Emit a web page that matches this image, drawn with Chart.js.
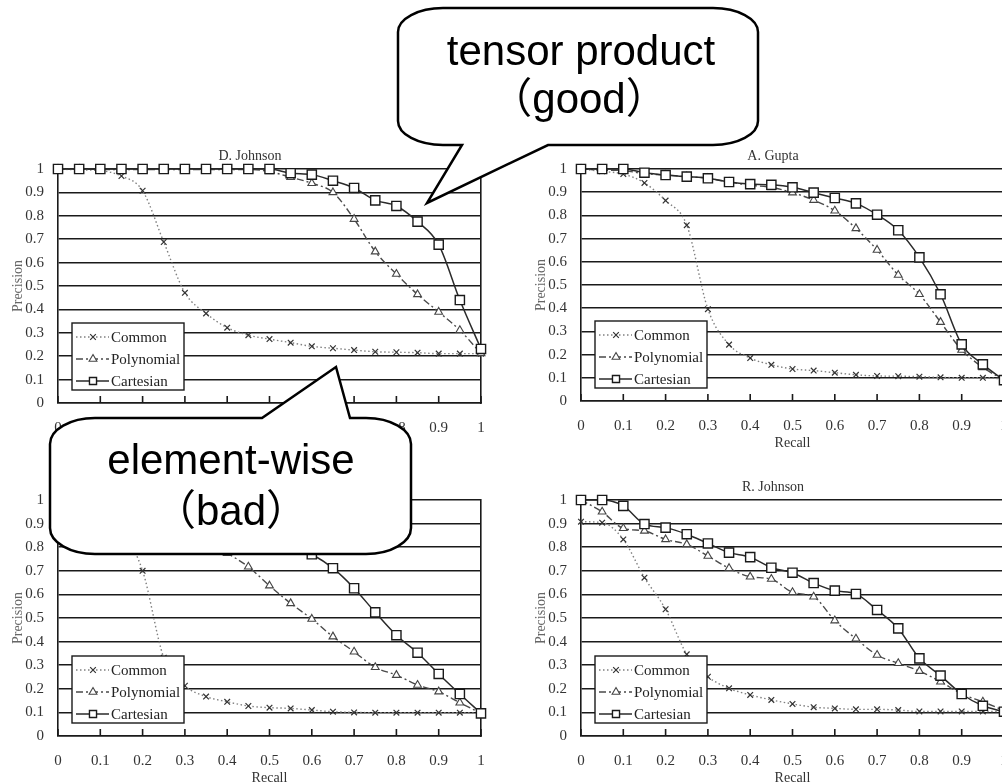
<!DOCTYPE html>
<html>
<head>
<meta charset="utf-8">
<script src="https://cdn.jsdelivr.net/npm/chart.js"></script>
<style>
html, body { margin: 0; padding: 0; width: 1002px; height: 784px; overflow: hidden; background: #fff; }
canvas { position: absolute; }
#bubbles { position: absolute; left: 0; top: 0; z-index: 5; }
</style>
</head>
<body>
<canvas id="chartDJ" width="500" height="316" style="left:0;top:144px"></canvas>
<canvas id="chartAG" width="500" height="314" style="left:523px;top:144px"></canvas>
<canvas id="chartBL" width="500" height="318" style="left:0;top:475px"></canvas>
<canvas id="chartRJ" width="500" height="318" style="left:523px;top:475px"></canvas>

<svg id="bubbles" width="1002" height="784">
  <path d="M443,8 H713 A45,24 0 0 1 758,32 V121 A45,24 0 0 1 713,145 H548 L427,203 L462,145 H443 A45,24 0 0 1 398,121 V32 A45,24 0 0 1 443,8 Z"
        fill="#fff" stroke="#000" stroke-width="2.5" stroke-linejoin="miter"/>
  <path d="M95,418 H262 L336,367 L350,418 H366 A45,26 0 0 1 411,444 V528 A45,26 0 0 1 366,554 H95 A45,26 0 0 1 50,528 V444 A45,26 0 0 1 95,418 Z"
        fill="#fff" stroke="#000" stroke-width="2.5" stroke-linejoin="miter"/>
  <g font-family="'Liberation Sans', Arial, 'Noto Sans CJK JP'" font-size="42" text-anchor="middle" fill="#000">
    <text x="581" y="65">tensor product</text>
    <text x="579" y="113">（good）</text>
    <text x="231" y="474">element-wise</text>
    <text x="231" y="525">（bad）</text>
  </g>
</svg>

<script>
// recall points (x axis)
const recall = [0, 0.05, 0.1, 0.15, 0.2, 0.25, 0.3, 0.35, 0.4, 0.45, 0.5,
                0.55, 0.6, 0.65, 0.7, 0.75, 0.8, 0.85, 0.9, 0.95, 1];

// D. Johnson
const djCommon = [1, 0.996, 0.993, 0.97, 0.907, 0.688, 0.471, 0.383, 0.322, 0.29, 0.273,
                  0.258, 0.242, 0.234, 0.226, 0.219, 0.217, 0.215, 0.211, 0.211, 0.211];
const djPoly   = [1, 1, 0.998, 0.998, 0.998, 0.998, 0.998, 0.998, 0.998, 0.998, 0.989,
                  0.965, 0.939, 0.9, 0.786, 0.647, 0.551, 0.464, 0.389, 0.311, 0.212];
const djCart   = [1, 1, 1, 1, 1, 1, 1, 1, 1, 1, 1,
                  0.982, 0.976, 0.95, 0.919, 0.866, 0.842, 0.775, 0.677, 0.44, 0.231];

// A. Gupta
const agCommon = [1, 0.99, 0.978, 0.94, 0.864, 0.758, 0.396, 0.243, 0.185, 0.156, 0.138,
                  0.131, 0.122, 0.113, 0.108, 0.107, 0.105, 0.102, 0.1, 0.1, 0.095];
const agPoly   = [1, 0.995, 0.993, 0.98, 0.974, 0.967, 0.96, 0.944, 0.93, 0.921, 0.898,
                  0.866, 0.82, 0.744, 0.651, 0.543, 0.46, 0.34, 0.22, 0.145, 0.09];
const agCart   = [1, 1, 1, 0.984, 0.974, 0.967, 0.96, 0.944, 0.935, 0.932, 0.921,
                  0.898, 0.875, 0.852, 0.803, 0.736, 0.619, 0.46, 0.244, 0.158, 0.09];

// lower left panel (title hidden under the callout)
const blCommon = [1, 0.99, 0.96, 0.87, 0.7, 0.332, 0.213, 0.167, 0.145, 0.127, 0.12,
                  0.117, 0.11, 0.103, 0.1, 0.099, 0.099, 0.099, 0.099, 0.099, 0.096];
const blPoly   = [1, 1, 0.99, 0.98, 0.96, 0.93, 0.89, 0.83, 0.775, 0.717, 0.637,
                  0.562, 0.496, 0.421, 0.357, 0.291, 0.258, 0.216, 0.188, 0.141, 0.096];
const blCart   = [1, 1, 1, 0.99, 0.98, 0.97, 0.96, 0.94, 0.92, 0.89, 0.85,
                  0.81, 0.77, 0.711, 0.626, 0.524, 0.427, 0.353, 0.263, 0.178, 0.096];

// R. Johnson
const rjCommon = [0.908, 0.904, 0.833, 0.671, 0.537, 0.346, 0.251, 0.202, 0.174, 0.153, 0.136,
                  0.122, 0.117, 0.113, 0.113, 0.11, 0.104, 0.104, 0.104, 0.104, 0.103];
const rjPoly   = [1, 0.95, 0.88, 0.869, 0.833, 0.812, 0.763, 0.711, 0.675, 0.665, 0.609,
                  0.59, 0.489, 0.412, 0.343, 0.308, 0.275, 0.23, 0.178, 0.145, 0.108];
const rjCart   = [1, 1, 0.975, 0.898, 0.883, 0.855, 0.816, 0.777, 0.758, 0.713, 0.692,
                  0.648, 0.616, 0.602, 0.534, 0.456, 0.329, 0.256, 0.178, 0.128, 0.103];

const seriesNames = ['Common', 'Polynomial', 'Cartesian'];
const SERIF = "'Liberation Serif', 'DejaVu Serif', serif";
const GRID = '#1a1a1a';

function pts(vals) {
    return recall.map((r, i) => ({ x: r, y: vals[i] }));
}

function makeSets(common, poly, cart) {
    return [
        { label: seriesNames[0], data: pts(common), borderColor: '#808080', borderWidth: 1.4,
          borderDash: [1.5, 2.5], pointStyle: 'crossRot', pointRadius: 4, pointBorderColor: '#333',
          pointBackgroundColor: '#fff', pointBorderWidth: 1.2, order: 2 },
        { label: seriesNames[1], data: pts(poly), borderColor: '#4a4a4a', borderWidth: 1.4,
          borderDash: [7, 3, 2, 3], pointStyle: 'triangle', pointRadius: 4.5, pointBorderColor: '#444',
          pointBackgroundColor: '#fff', pointBorderWidth: 1.1, order: 1 },
        { label: seriesNames[2], data: pts(cart), borderColor: '#2a2a2a', borderWidth: 1.5,
          borderDash: [], pointStyle: 'rect', pointRadius: 6.5, pointBorderColor: '#1a1a1a',
          pointBackgroundColor: '#fff', pointBorderWidth: 1.4, order: 0 }
    ];
}

// inward tick marks on the recall axis
const innerTicks = {
    id: 'innerTicks',
    beforeDatasetsDraw(chart) {
        const { ctx, chartArea: a, scales: { x } } = chart;
        ctx.save();
        ctx.strokeStyle = GRID;
        ctx.lineWidth = 1.6;
        ctx.beginPath();
        x.ticks.forEach(t => {
            const px = x.getPixelForValue(t.value);
            ctx.moveTo(px, a.bottom);
            ctx.lineTo(px, a.bottom - 7);
        });
        ctx.stroke();
        ctx.restore();
    }
};

function drawMark(ctx, style, x, y, r) {
    ctx.beginPath();
    if (style === 'crossRot') {
        const d = r * Math.SQRT1_2;
        ctx.moveTo(x - d, y - d); ctx.lineTo(x + d, y + d);
        ctx.moveTo(x + d, y - d); ctx.lineTo(x - d, y + d);
        ctx.stroke();
        return;
    }
    if (style === 'triangle') {
        ctx.moveTo(x, y - r);
        ctx.lineTo(x + r * 0.87, y + r * 0.5);
        ctx.lineTo(x - r * 0.87, y + r * 0.5);
        ctx.closePath();
    } else {
        const s = r * Math.SQRT1_2;
        ctx.rect(x - s, y - s, 2 * s, 2 * s);
    }
    ctx.fill();
    ctx.stroke();
}

// boxed legend in the lower left corner of the plot
const boxLegend = {
    id: 'boxLegend',
    afterDatasetsDraw(chart, args, opts) {
        const { ctx, chartArea: a } = chart;
        const w = 112, h = 67;
        const x0 = a.left + opts.left;
        const y0 = a.bottom - opts.bottom - h;
        ctx.save();
        ctx.fillStyle = '#fff';
        ctx.strokeStyle = GRID;
        ctx.lineWidth = 1.4;
        ctx.setLineDash([]);
        ctx.fillRect(x0, y0, w, h);
        ctx.strokeRect(x0, y0, w, h);
        chart.data.datasets.forEach((ds, i) => {
            const cy = y0 + 14 + i * 22;
            ctx.setLineDash(ds.borderDash);
            ctx.strokeStyle = ds.borderColor;
            ctx.lineWidth = ds.borderWidth;
            ctx.beginPath();
            ctx.moveTo(x0 + 4, cy);
            ctx.lineTo(x0 + 37, cy);
            ctx.stroke();
            ctx.setLineDash([]);
            ctx.strokeStyle = ds.pointBorderColor;
            ctx.fillStyle = ds.pointBackgroundColor;
            ctx.lineWidth = ds.pointBorderWidth;
            drawMark(ctx, ds.pointStyle, x0 + 21, cy, Math.min(ds.pointRadius, 5));
            ctx.fillStyle = '#222';
            ctx.font = '15px ' + SERIF;
            ctx.textBaseline = 'middle';
            ctx.fillText(ds.label, x0 + 39, cy + 1);
        });
        ctx.restore();
    }
};

const tickText = v => String(+v.toFixed(1));

function makeChart(id, title, sets) {
    const ctx = document.getElementById(id).getContext('2d');
    return new Chart(ctx, {
        type: 'line',
        data: { datasets: sets },
        options: {
            responsive: false,
            animation: false,
            clip: false,
            elements: { line: { cubicInterpolationMode: 'monotone' } },
            plugins: {
                legend: { display: false },
                tooltip: { enabled: false },
                title: { display: true, text: title, color: '#333',
                         font: { family: SERIF, size: 14, weight: 'normal' },
                         padding: { top: 4, bottom: 4.2 } },
                boxLegend: { left: 14, bottom: 13 }
            },
            scales: {
                x: {
                    type: 'linear', min: 0, max: 1,
                    ticks: { stepSize: 0.1, padding: 16, color: '#333', callback: tickText,
                             font: { family: SERIF, size: 15 } },
                    grid: { display: false, drawTicks: false },
                    border: { display: true, color: GRID, width: 1.6 },
                    title: { display: true, text: 'Recall', color: '#333',
                             font: { family: SERIF, size: 14 }, padding: { top: 0, bottom: 6 } },
                    afterFit(scale) {
                        scale.height = 57;
                        scale.paddingLeft = 0;
                        scale.paddingRight = 0;
                    }
                },
                y: {
                    min: 0, max: 1,
                    ticks: { stepSize: 0.1, padding: 14, color: '#333', callback: tickText,
                             font: { family: SERIF, size: 15 } },
                    grid: { color: GRID, lineWidth: 1.6, drawTicks: false },
                    border: { display: true, color: GRID, width: 1.6 },
                    title: { display: true, text: 'Precision', color: '#666',
                             font: { family: SERIF, size: 14 }, padding: { top: 10, bottom: 0 } },
                    afterFit(scale) {
                        scale.width = 58;
                        scale.paddingTop = 0;
                        scale.paddingBottom = 0;
                    }
                },
                // right-hand frame line of the plot box
                yRight: {
                    position: 'right', min: 0, max: 1,
                    ticks: { display: false },
                    grid: { drawOnChartArea: false, drawTicks: false },
                    border: { display: true, color: GRID, width: 1.6 },
                    afterFit(scale) {
                        scale.width = 19;
                        scale.paddingTop = 0;
                        scale.paddingBottom = 0;
                    }
                }
            }
        },
        plugins: [innerTicks, boxLegend]
    });
}

makeChart('chartDJ', 'D. Johnson', makeSets(djCommon, djPoly, djCart));
makeChart('chartAG', 'A. Gupta', makeSets(agCommon, agPoly, agCart));
makeChart('chartBL', ' ', makeSets(blCommon, blPoly, blCart));
makeChart('chartRJ', 'R. Johnson', makeSets(rjCommon, rjPoly, rjCart));
</script>
</body>
</html>
